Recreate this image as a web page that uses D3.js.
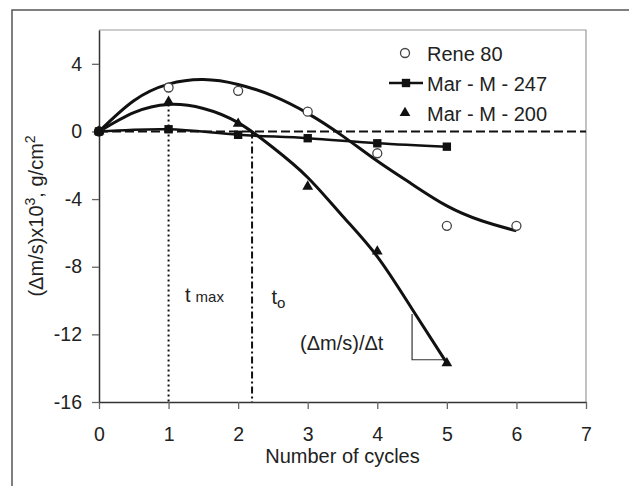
<!DOCTYPE html>
<html>
<head>
<meta charset="utf-8">
<script src="https://cdn.jsdelivr.net/npm/d3@7"></script>
<style>
  body { margin:0; background:#fff; }
  text { font-family: "Liberation Sans", Arial, sans-serif; fill:#222; }
</style>
</head>
<body>
<script>
// measured points
var cycles   = [0, 1, 2, 3, 4, 5, 6];
var rene80   = [0, 2.6, 2.4, 1.17, -1.29, -5.58, -5.58];
var marM247  = [0, 0.13, -0.2, -0.4, -0.7, -0.9];
var marM200  = [0, 1.76, 0.46, -3.26, -7.1, -13.7];

// trend curves
var reneFitX = [0, 0.5, 1, 1.5, 2, 2.5, 3, 3.5, 4, 4.5, 5, 5.5, 6];
var reneFitY = [0, 1.82, 2.8, 3.07, 2.78, 2.1, 1.07, -0.26, -1.75, -3.12, -4.4, -5.28, -5.88];
var m200FitX = [0, 0.5, 1, 1.5, 2, 2.5, 3, 3.5, 4, 4.5, 5];
var m200FitY = [0, 1.12, 1.6, 1.36, 0.52, -0.95, -2.72, -5.0, -7.4, -10.5, -13.7];

var xTicks = [0, 1, 2, 3, 4, 5, 6, 7];
var yTicks = [-16, -12, -8, -4, 0, 4];
var legendNames = ["Rene 80", "Mar - M - 247", "Mar - M - 200"];

var tMax = 1, tMaxTop = 1.6;
var tZero = 2.2;
var slope = {x0:4.5, x1:5, yTop:-10.8, yBot:-13.5};

var margin = {left:99, top:30};
var width = 487, height = 372;

var svg = d3.select("body").append("svg").attr("width",629).attr("height",486);

svg.append("rect").attr("x",12).attr("y",10).attr("width",660).attr("height",520)
   .attr("fill","none").attr("stroke","#555").attr("stroke-width",1.5);

var chartGroup = svg.append("g").attr("transform","translate("+margin.left+","+margin.top+")");

var x = d3.scaleLinear().domain([0,7]).range([0,width]);
var y = d3.scaleLinear().domain([-16,6]).range([height,0]);

// plot frame top / right
chartGroup.append("path").attr("d","M0,0H"+width+"V"+height)
   .attr("fill","none").attr("stroke","#999").attr("stroke-width",1.2);

var plain = function(d){ return String(d); };
var xAxis = d3.axisBottom(x).tickValues(xTicks).tickFormat(plain).tickSize(7).tickSizeOuter(0).tickPadding(18);
var yAxis = d3.axisLeft(y).tickValues(yTicks).tickFormat(plain).tickSize(7).tickSizeOuter(0).tickPadding(10);

var gx = chartGroup.append("g").attr("transform","translate(0,"+height+")").call(xAxis);
var gy = chartGroup.append("g").call(yAxis);
[gx, gy].forEach(function(g){
  g.select(".domain").attr("stroke","#333").attr("stroke-width",1.5);
  g.selectAll(".tick line").attr("stroke","#666").attr("stroke-width",1.3);
  g.selectAll(".tick text").attr("fill","#222").style("font-size","19.5px")
   .style("font-family","'Liberation Sans', Arial, sans-serif");
});
gx.selectAll(".tick text").attr("dy","0.71em");

// reference lines
chartGroup.append("line").attr("x1",x(0)).attr("x2",x(7)).attr("y1",y(0)).attr("y2",y(0))
   .attr("stroke","#111").attr("stroke-width",2).attr("stroke-dasharray","9,4");
chartGroup.append("line").attr("x1",x(tMax)).attr("x2",x(tMax)).attr("y1",y(tMaxTop)).attr("y2",y(-16))
   .attr("stroke","#111").attr("stroke-width",2).attr("stroke-dasharray","2,3");
chartGroup.append("line").attr("x1",x(tZero)).attr("x2",x(tZero)).attr("y1",y(0)).attr("y2",y(-16))
   .attr("stroke","#111").attr("stroke-width",2).attr("stroke-dasharray","7,3,2,3");

// slope triangle
chartGroup.append("path")
   .attr("d","M"+x(slope.x0)+","+y(slope.yTop)+"V"+y(slope.yBot)+"H"+x(slope.x1))
   .attr("fill","none").attr("stroke","#333").attr("stroke-width",1.2);

// curves
var smooth = d3.line().x(function(d){return x(d[0]);}).y(function(d){return y(d[1]);}).curve(d3.curveNatural);
chartGroup.append("path").attr("d",smooth(d3.zip(reneFitX,reneFitY)))
   .attr("fill","none").attr("stroke","#111").attr("stroke-width",3);
chartGroup.append("path").attr("d",smooth(d3.zip(m200FitX,m200FitY)))
   .attr("fill","none").attr("stroke","#111").attr("stroke-width",3);

var pts247 = marM247.map(function(v,i){return [cycles[i],v];});
chartGroup.append("path")
   .attr("d",d3.line().x(function(d){return x(d[0]);}).y(function(d){return y(d[1]);}).curve(d3.curveCatmullRom)(pts247))
   .attr("fill","none").attr("stroke","#111").attr("stroke-width",2.5);

// markers
var tri = d3.symbol().type(d3.symbolTriangle).size(50);
var sq = d3.symbol().type(d3.symbolSquare).size(70);

chartGroup.selectAll("circle.rene").data(rene80).enter().append("circle")
   .attr("class","rene")
   .attr("cx",function(d,i){return x(cycles[i]);})
   .attr("cy",function(d){return y(d);})
   .attr("r",4.5).attr("fill","#fff").attr("stroke","#444").attr("stroke-width",1.3);

chartGroup.selectAll("path.sq").data(marM247).enter().append("path")
   .attr("class","sq").attr("d",sq).attr("fill","#111")
   .attr("transform",function(d,i){return "translate("+x(cycles[i])+","+y(d)+")";});

chartGroup.selectAll("path.tri").data(marM200).enter().append("path")
   .attr("class","tri").attr("d",tri).attr("fill","#111")
   .attr("transform",function(d,i){return "translate("+x(cycles[i])+","+y(d)+")";});

chartGroup.append("circle").attr("cx",x(0)).attr("cy",y(0)).attr("r",5).attr("fill","#111");

// annotations
var t1 = svg.append("text").attr("x",185).attr("y",301.5).style("font-size","20px");
t1.append("tspan").text("t");
t1.append("tspan").attr("dx",5).style("font-size","15px").text("max");
var t2 = svg.append("text").attr("x",271.5).attr("y",304).style("font-size","20px");
t2.append("tspan").text("t");
t2.append("tspan").attr("dy",4).style("font-size","15px").text("o");
svg.append("text").attr("x",300).attr("y",350).style("font-size","20px").text("(\u0394m/s)/\u0394t");

// legend
var legend = svg.append("g");
var rowY = [53, 83, 113];
legend.append("circle").attr("cx",405).attr("cy",rowY[0]).attr("r",4.5)
   .attr("fill","#fff").attr("stroke","#444").attr("stroke-width",1.3);
legend.append("line").attr("x1",389).attr("x2",423).attr("y1",rowY[1]).attr("y2",rowY[1])
   .attr("stroke","#111").attr("stroke-width",2.5);
legend.append("path").attr("d",sq).attr("fill","#111").attr("transform","translate(406,"+rowY[1]+")");
legend.append("path").attr("d",tri).attr("fill","#111").attr("transform","translate(405,"+rowY[2]+")");
legend.selectAll("text").data(legendNames).enter().append("text")
   .attr("x",427).attr("y",function(d,i){return rowY[i]+7.5;})
   .style("font-size","20px").text(function(d){return d;});

// axis titles
svg.append("text").attr("x",margin.left+width/2).attr("y",463).attr("text-anchor","middle")
   .style("font-size","20px").text("Number of cycles");

var yt = svg.append("text").attr("transform","translate(43,216) rotate(-90)")
   .attr("text-anchor","middle").style("font-size","20px");
yt.append("tspan").text("(\u0394m/s)x10");
yt.append("tspan").attr("dy",-8).style("font-size","14px").text("3");
yt.append("tspan").attr("dy",8).text(", g/cm");
yt.append("tspan").attr("dy",-8).style("font-size","14px").text("2");
</script>
</body>
</html>
